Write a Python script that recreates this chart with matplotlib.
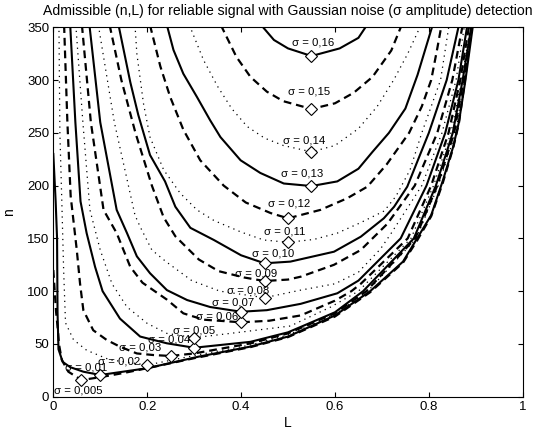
import matplotlib
matplotlib.use("Agg")
import matplotlib.pyplot as plt

plt.rcParams['font.family'] = ['Liberation Sans', 'DejaVu Sans']

# sigma levels, in the order they are drawn
sigmas = [0.005, 0.01, 0.02, 0.03, 0.04, 0.05, 0.06, 0.07, 0.08,
          0.09, 0.10, 0.11, 0.12, 0.13, 0.14, 0.15, 0.16]
sigma_labels = ['σ = 0,005', 'σ = 0,01', 'σ = 0,02', 'σ = 0,03', 'σ = 0,04',
                'σ = 0,05', 'σ = 0,06', 'σ = 0,07', 'σ = 0,08', 'σ = 0,09',
                'σ = 0,10', 'σ = 0,11', 'σ = 0,12', 'σ = 0,13', 'σ = 0,14',
                'σ = 0,15', 'σ = 0,16']

# admissible boundary for each sigma, (L, n)
L_0005 = [0.0, 0.006, 0.010, 0.012, 0.018, 0.032, 0.060, 0.100, 0.150, 0.200, 0.300, 0.420,
          0.500, 0.600, 0.675, 0.745, 0.775, 0.805, 0.830, 0.852, 0.864, 0.877, 0.892]
n_0005 = [120, 80, 62, 50, 35, 23.7, 15.8, 18.5, 22.5, 27, 36.5, 47,
          56.5, 76, 99, 127, 148, 171, 203, 236, 259, 300, 352]

L_001 = [0.0, 0.005, 0.008, 0.009, 0.011, 0.020, 0.036, 0.064, 0.100, 0.200, 0.310, 0.420,
         0.500, 0.600, 0.675, 0.745, 0.775, 0.805, 0.830, 0.852, 0.864, 0.878, 0.894]
n_001 = [230, 185, 150, 80, 45, 33, 28, 23.7, 20.6, 27, 38, 47.5,
         57, 77, 100, 128, 150, 172, 205, 237, 260, 300, 352]

L_002 = [0.012, 0.014, 0.018, 0.022, 0.026, 0.043, 0.071, 0.120, 0.200, 0.300,
         0.420, 0.500, 0.600, 0.670, 0.773, 0.820, 0.857, 0.875, 0.893]
n_002 = [352, 250, 187, 120, 70, 54, 44, 35, 30, 39,
         49, 58.5, 78, 100, 150, 200, 250, 300, 352]

L_003 = [0.023, 0.030, 0.037, 0.050, 0.057, 0.064, 0.085, 0.114, 0.142, 0.178, 0.213,
         0.250, 0.300, 0.420, 0.500, 0.600, 0.667, 0.771, 0.818, 0.854, 0.874, 0.892]
n_003 = [352, 260, 190, 139, 107, 82, 63, 53.7, 47.4, 41, 39.5,
         38.6, 41, 50.5, 60, 79, 100, 150, 200, 250, 300, 352]

L_004 = [0.036, 0.047, 0.058, 0.071, 0.089, 0.105, 0.142, 0.185, 0.242, 0.300,
         0.420, 0.500, 0.600, 0.660, 0.768, 0.815, 0.851, 0.872, 0.891]
n_004 = [352, 260, 185, 155, 123, 100, 74, 57, 50.6, 46.4,
         52, 61, 80, 100, 150, 200, 250, 300, 352]

L_005 = [0.048, 0.063, 0.078, 0.100, 0.125, 0.157, 0.200, 0.242, 0.300, 0.377,
         0.450, 0.505, 0.591, 0.650, 0.762, 0.810, 0.847, 0.870, 0.889]
n_005 = [352, 260, 177, 139, 107, 85, 69.5, 60, 55.9, 60,
         64, 67, 85, 100, 150, 200, 250, 300, 352]

L_006 = [0.061, 0.080, 0.107, 0.135, 0.164, 0.190, 0.242, 0.277, 0.320, 0.400,
         0.460, 0.527, 0.600, 0.635, 0.655, 0.755, 0.805, 0.842, 0.867, 0.886]
n_006 = [352, 260, 177, 155, 123, 108, 92, 79, 73, 70.5,
         72, 77, 91, 100, 107, 150, 200, 250, 300, 352]

L_007 = [0.077, 0.100, 0.135, 0.157, 0.178, 0.206, 0.242, 0.285, 0.334, 0.400,
         0.455, 0.527, 0.605, 0.650, 0.740, 0.795, 0.835, 0.863, 0.882]
n_007 = [352, 260, 177, 155, 133, 117, 101, 91.6, 85, 80.5,
         82, 88, 98, 110, 150, 200, 250, 300, 352]

L_008 = [0.096, 0.130, 0.174, 0.185, 0.210, 0.240, 0.295, 0.355, 0.450,
         0.527, 0.600, 0.650, 0.697, 0.720, 0.785, 0.828, 0.858, 0.876]
n_008 = [352, 260, 172, 161, 139, 128, 110, 100, 93.8,
         101, 107, 118, 140, 155, 200, 250, 300, 352]

L_009 = [0.120, 0.145, 0.175, 0.210, 0.235, 0.260, 0.310, 0.352, 0.406, 0.450,
         0.500, 0.527, 0.598, 0.655, 0.680, 0.712, 0.770, 0.818, 0.850, 0.872]
n_009 = [352, 300, 250, 200, 170, 152, 130, 119, 113, 109.6,
         111, 113.7, 125, 139, 150, 164, 200, 250, 300, 352]

L_010 = [0.139, 0.164, 0.181, 0.206, 0.238, 0.260, 0.292, 0.342, 0.400, 0.450,
         0.505, 0.598, 0.655, 0.704, 0.726, 0.754, 0.800, 0.838, 0.864]
n_010 = [352, 298, 267, 229, 204, 180, 160, 148.5, 134, 126.4,
         128, 137.4, 151.6, 169, 180, 199, 250, 300, 352]

L_011 = [0.174, 0.178, 0.192, 0.206, 0.235, 0.270, 0.306, 0.342, 0.400, 0.448,
         0.500, 0.555, 0.605, 0.655, 0.705, 0.730, 0.760, 0.785, 0.825, 0.843]
n_011 = [352, 325, 278, 246, 215, 193, 177, 167, 156, 148.5,
         146.3, 149, 155, 165, 176, 190, 215, 250, 300, 352]

L_012 = [0.206, 0.228, 0.249, 0.277, 0.313, 0.363, 0.410, 0.463, 0.500,
         0.569, 0.626, 0.669, 0.710, 0.758, 0.785, 0.805, 0.818, 0.827]
n_012 = [352, 313, 284, 253, 224, 200, 184, 174, 169,
         177, 188, 199, 220, 250, 275, 300, 330, 352]

L_013 = [0.242, 0.256, 0.277, 0.306, 0.334, 0.356, 0.399, 0.441, 0.491,
         0.550, 0.605, 0.650, 0.680, 0.715, 0.750, 0.776, 0.808]
n_013 = [352, 328.5, 306, 284, 262, 246, 224, 212, 202,
         199.6, 204, 216, 232, 250, 273, 305, 352]

L_014 = [0.290, 0.320, 0.350, 0.380, 0.413, 0.450, 0.490,
         0.550, 0.600, 0.650, 0.690, 0.725, 0.755, 0.783]
n_014 = [352, 319, 294, 273, 256, 245, 238,
         232, 238, 254, 275, 300, 325, 352]

L_015 = [0.357, 0.390, 0.420, 0.455, 0.490, 0.550, 0.600, 0.640, 0.680, 0.720, 0.742]
n_015 = [352, 322, 303, 289, 280, 272.6, 278, 288, 303, 328, 352]

L_016 = [0.443, 0.470, 0.500, 0.550, 0.610, 0.650, 0.668]
n_016 = [352, 338, 330, 322.8, 330, 340, 352]

curves_L = [L_0005, L_001, L_002, L_003, L_004, L_005, L_006, L_007, L_008,
            L_009, L_010, L_011, L_012, L_013, L_014, L_015, L_016]
curves_n = [n_0005, n_001, n_002, n_003, n_004, n_005, n_006, n_007, n_008,
            n_009, n_010, n_011, n_012, n_013, n_014, n_015, n_016]

# minimum n of each curve (diamonds)
min_L = [0.06, 0.10, 0.20, 0.25, 0.30, 0.30, 0.40, 0.40, 0.45,
         0.45, 0.45, 0.50, 0.50, 0.55, 0.55, 0.55, 0.55]
min_n = [15.8, 20.6, 30, 38.6, 46.4, 55.9, 70.5, 80.5, 93.8,
         109.6, 126.4, 146.3, 169, 199.6, 232, 272.6, 322.8]

# where the sigma labels sit
label_x = [0.053, 0.069, 0.140, 0.186, 0.247, 0.300, 0.350, 0.383, 0.416,
           0.433, 0.468, 0.493, 0.503, 0.530, 0.534, 0.545, 0.553]
label_y = [6.3, 28, 33.5, 46.5, 54, 63, 75.8, 89, 101,
           117, 136, 157, 182.6, 211.7, 243, 289, 336]

styles = [
    dict(linestyle=(0, (3.5, 2.2)), linewidth=1.6),   # dashed
    dict(linestyle='-', linewidth=1.5),                # solid
    dict(linestyle=(0, (1, 3.5)), linewidth=0.9),      # dotted
]

fig = plt.figure(figsize=(5.39, 4.34), dpi=100)
ax = fig.add_axes([0.0989, 0.0859, 0.8709, 0.8512])

for i in range(len(sigmas)):
    ax.plot(curves_L[i], curves_n[i], color='black', **styles[i % 3])

ax.plot(min_L, min_n, linestyle='none', marker='D', markersize=6.5,
        markerfacecolor='white', markeredgecolor='black', markeredgewidth=0.8, zorder=5)

for i in range(len(sigmas)):
    ax.text(label_x[i], label_y[i], sigma_labels[i], fontsize=8.2,
            ha='center', va='center', zorder=6)

ax.set_xlim(0, 1)
ax.set_ylim(0, 350)
ax.set_xticks([0, 0.2, 0.4, 0.6, 0.8, 1])
ax.set_xticklabels(['0', '0.2', '0.4', '0.6', '0.8', '1'])
ax.set_yticks(range(0, 351, 50))
ax.tick_params(direction='in', top=True, right=True, length=3.5, labelsize=9.5, pad=3)
for s in ax.spines.values():
    s.set_linewidth(0.8)

ax.set_xlabel('L', fontsize=10, labelpad=2)
ax.set_ylabel('n', fontsize=10, labelpad=8)
ax.set_title('Admissible (n,L) for reliable signal with Gaussian noise (σ amplitude) detection',
             fontsize=10.1, pad=9)

fig.savefig('out.png', dpi=100)
